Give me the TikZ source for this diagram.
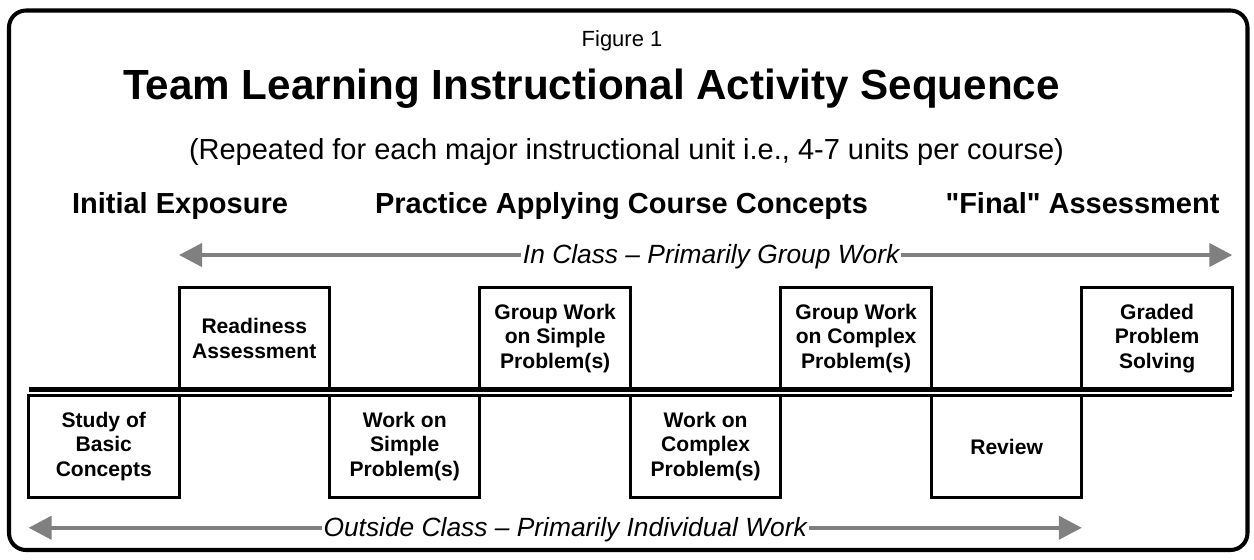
\documentclass[tikz,border=0pt]{standalone}
\usepackage{fontspec}
\setmainfont[Ligatures=TeXOff]{Liberation Sans}
\usepackage{tikz}
\usetikzlibrary{arrows.meta,positioning}
\definecolor{arrowgray}{HTML}{808080}

\begin{document}
\begin{tikzpicture}[x=0.02cm, y=-0.02cm, node distance=0.116cm and 0cm,
    every node/.style={inner sep=0pt, outer sep=0pt},
    actbox/.style={draw, line width=1.7pt, minimum width=3.01cm, minimum height=2.05cm, align=center, font=\fontsize{12}{14}\selectfont\bfseries},
    phase/.style={anchor=base, font=\fontsize{16.5}{20}\selectfont\bfseries},
    sidearrow/.style={draw=arrowgray, line width=2.3pt, {Triangle[length=0.46cm, width=0.46cm]}-{Triangle[length=0.46cm, width=0.46cm]}},
    sidelabel/.style={fill=white, inner xsep=1pt, anchor=base, font=\fontsize{15}{18}\selectfont\itshape}]
                    \useasboundingbox (0,0) rectangle (1254,559);
                    \draw[line width=2.3pt, rounded corners=0.34cm] (9,10.5) rectangle (1247.5,550);
                    % headings
                    \node (fig) [anchor=base, font=\fontsize{12.5}{15}\selectfont] at (622,46) {Figure 1};
                    \node (title) [anchor=base, font=\fontsize{24}{29}\selectfont\bfseries] at (591.5,99.5)
                        {Team Learning Instructional Activity Sequence};
                    \node (sub) [anchor=base, font=\fontsize{16.5}{20}\selectfont] at (626.5,159)
                        {(Repeated for each major instructional unit i.e., 4-7 units per course)};
                    \node (initial) [phase] at (180,213) {Initial Exposure};
                    \node (practice) [phase] at (621.5,213) {Practice Applying Course Concepts};
                    \node (final) [phase] at (1082.5,213) {"Final" Assessment};
                    % activity boxes
                    \node (ready) [actbox] at (254.25,338.25) {Readiness\\Assessment};
                    \node (grpsim) [actbox, right=3.01cm of ready] {Group Work\\on Simple\\Problem(s)};
                    \node (grpcpx) [actbox, right=3.01cm of grpsim] {Group Work\\on Complex\\Problem(s)};
                    \node (graded) [actbox, right=3.01cm of grpcpx] {Graded\\Problem\\Solving};
                    \node (study) [actbox, below left=of ready] {Study of\\Basic\\Concepts};
                    \node (worksim) [actbox, below right=of ready] {Work on\\Simple\\Problem(s)};
                    \node (workcpx) [actbox, below right=of grpsim] {Work on\\Complex\\Problem(s)};
                    \node (review) [actbox, below right=of grpcpx] {Review};
                    % double line
                    \draw[line width=2.56pt] (study.north west |- ready.south) -- (graded.south east);
                    \draw[line width=1.7pt] (study.north west) -- (study.north west -| graded.east);
                    % class arrows
                    \draw[sidearrow] ([yshift=0.64cm]ready.north west)
                        -- node[sidelabel, xshift=0.11cm, yshift=-0.16cm] {In Class – Primarily Group Work}
                        ([yshift=0.64cm]graded.north east);
                    \draw[sidearrow] ([yshift=-0.6cm]study.south west)
                        -- node[sidelabel, xshift=0.2cm, yshift=-0.18cm] {Outside Class – Primarily Individual Work}
                        ([yshift=-0.6cm]review.south east);
                \end{tikzpicture}
\end{document}
